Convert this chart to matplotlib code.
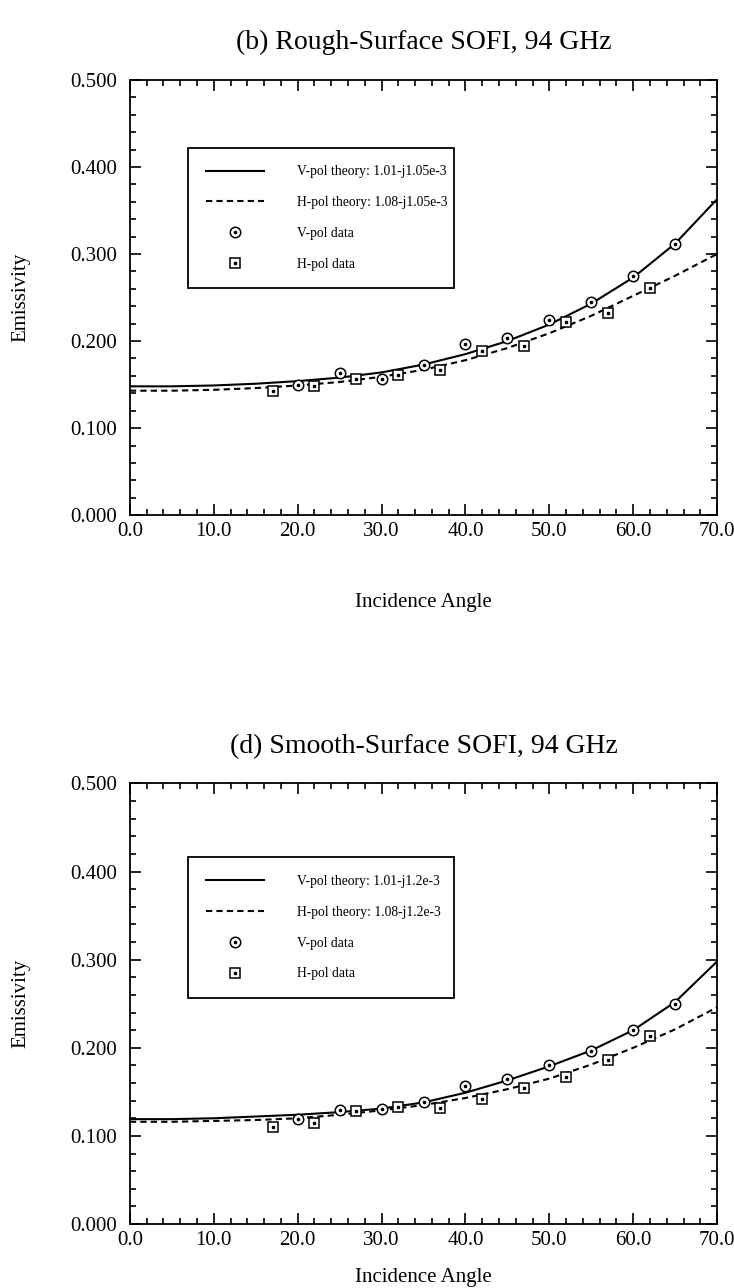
import matplotlib
matplotlib.use("Agg")
import matplotlib.pyplot as plt
from matplotlib.ticker import MultipleLocator, FormatStrFormatter
from matplotlib.legend_handler import HandlerTuple

plt.rcParams['font.family'] = ['Liberation Serif', 'DejaVu Serif']

# theory curves, read every 5 degrees
theta = [0, 5, 10, 15, 20, 25, 30, 35, 40, 45, 50, 55, 60, 65, 70]
rough_v_theory = [0.148, 0.148, 0.149, 0.151, 0.154, 0.158, 0.164, 0.173, 0.185,
                  0.200, 0.219, 0.243, 0.273, 0.312, 0.363]
rough_h_theory = [0.143, 0.143, 0.144, 0.146, 0.149, 0.153, 0.159, 0.167, 0.178,
                  0.192, 0.209, 0.229, 0.252, 0.275, 0.300]
smooth_v_theory = [0.119, 0.119, 0.120, 0.122, 0.124, 0.127, 0.131, 0.138, 0.149,
                   0.163, 0.179, 0.197, 0.220, 0.252, 0.298]
smooth_h_theory = [0.116, 0.116, 0.117, 0.118, 0.120, 0.124, 0.129, 0.135, 0.143,
                   0.153, 0.165, 0.181, 0.200, 0.221, 0.246]

# measured data
v_angles = [20, 25, 30, 35, 40, 45, 50, 55, 60, 65]
h_angles = [17, 22, 27, 32, 37, 42, 47, 52, 57, 62]
rough_v_data = [0.150, 0.163, 0.157, 0.172, 0.197, 0.203, 0.224, 0.245, 0.275, 0.311]
rough_h_data = [0.143, 0.148, 0.156, 0.161, 0.167, 0.189, 0.194, 0.222, 0.232, 0.261]
smooth_v_data = [0.119, 0.129, 0.131, 0.139, 0.157, 0.165, 0.180, 0.196, 0.220, 0.250]
smooth_h_data = [0.110, 0.115, 0.128, 0.133, 0.132, 0.142, 0.154, 0.167, 0.186, 0.213]

panels = [
    ("(b) Rough-Surface SOFI, 94 GHz", "1.01-j1.05e-3", "1.08-j1.05e-3",
     rough_v_theory, rough_h_theory, rough_v_data, rough_h_data),
    ("(d) Smooth-Surface SOFI, 94 GHz", "1.01-j1.2e-3", "1.08-j1.2e-3",
     smooth_v_theory, smooth_h_theory, smooth_v_data, smooth_h_data),
]

fig = plt.figure(figsize=(7.34, 12.88), dpi=100)
axes_rects = [[0.177, 0.600, 0.800, 0.338], [0.177, 0.0497, 0.800, 0.342]]
xlabel_pads = [37, 13]
legend_tops = [0.844, 0.832]

for i, (title, v_eps, h_eps, vt, ht, vd, hd) in enumerate(panels):
    ax = fig.add_axes(axes_rects[i])
    lv, = ax.plot(theta, vt, color='black', lw=1.5)
    lh, = ax.plot(theta, ht, color='black', lw=1.5, ls=(0, (3, 2)))
    mv, = ax.plot(v_angles, vd, ls='none', marker='o', ms=7.5, mfc='white',
                  mec='black', mew=1.1)
    dv, = ax.plot(v_angles, vd, ls='none', marker='o', ms=1.6, color='black')
    mh, = ax.plot(h_angles, hd, ls='none', marker='s', ms=7, mfc='white',
                  mec='black', mew=1.1)
    dh, = ax.plot(h_angles, hd, ls='none', marker='s', ms=1.6, color='black')

    ax.set_xlim(0, 70)
    ax.set_ylim(0, 0.5)
    ax.xaxis.set_major_locator(MultipleLocator(10))
    ax.xaxis.set_minor_locator(MultipleLocator(2))
    ax.yaxis.set_major_locator(MultipleLocator(0.1))
    ax.yaxis.set_minor_locator(MultipleLocator(0.02))
    ax.xaxis.set_major_formatter(FormatStrFormatter('%.1f'))
    ax.yaxis.set_major_formatter(FormatStrFormatter('%.3f'))
    ax.tick_params(which='both', direction='in', top=True, right=True,
                   labelsize=15, width=1.2)
    ax.tick_params(which='major', length=8)
    ax.tick_params(which='minor', length=4)
    ax.tick_params(axis='y', which='major', pad=9)
    ax.tick_params(axis='x', which='major', pad=5)
    for s in ax.spines.values():
        s.set_linewidth(1.3)

    ax.set_title(title, fontsize=20, pad=22)
    ax.set_xlabel("Incidence Angle", fontsize=15, labelpad=xlabel_pads[i])
    ax.set_ylabel("Emissivity", fontsize=15, labelpad=29)

    leg = ax.legend([lv, lh, (mv, dv), (mh, dh)],
                    ["V-pol theory: " + v_eps, "H-pol theory: " + h_eps,
                     "V-pol data", "H-pol data"],
                    handler_map={tuple: HandlerTuple(ndivide=1)},
                    loc='upper left', mode='expand',
                    bbox_to_anchor=(0.099, 0, 0.453, legend_tops[i]),
                    fontsize=9.8, handlelength=4.3, handletextpad=2.4,
                    labelspacing=1.3, borderpad=1.3, borderaxespad=0,
                    fancybox=False, framealpha=1, edgecolor='black')
    leg.get_frame().set_linewidth(1.3)

fig.savefig("out.png", dpi=100)
